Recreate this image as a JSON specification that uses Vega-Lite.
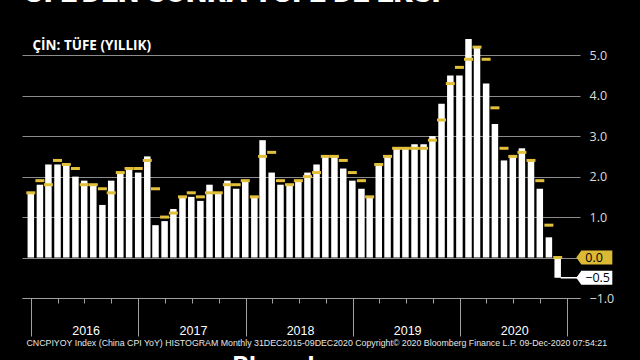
{
  "$schema": "https://vega.github.io/schema/vega-lite/v6.json",
  "width": 558,
  "height": 263,
  "autosize": {"type": "none"},
  "padding": {"left": 22, "top": 35, "right": 60, "bottom": 62},
  "background": "#000000",
  "config": {"view": {"stroke": null}, "font": "Open Sans"},
  "title": {
    "text": "ÜFE'DEN SONRA TÜFE DE EKSİ",
    "anchor": "start",
    "frame": "group",
    "orient": "top",
    "font": "Roboto",
    "fontSize": 30,
    "fontWeight": 900,
    "color": "#ffffff",
    "baseline": "alphabetic",
    "offset": 23,
    "dx": 2,
    "dy": 20
  },
  "data": {
    "values": [
      {"date": "2015-12-31", "cpi": 1.6, "survey": 1.6},
      {"date": "2016-01-31", "cpi": 1.8, "survey": 1.9},
      {"date": "2016-02-29", "cpi": 2.3, "survey": 1.8},
      {"date": "2016-03-31", "cpi": 2.3, "survey": 2.4},
      {"date": "2016-04-30", "cpi": 2.3, "survey": 2.3},
      {"date": "2016-05-31", "cpi": 2.0, "survey": 2.2},
      {"date": "2016-06-30", "cpi": 1.9, "survey": 1.8},
      {"date": "2016-07-31", "cpi": 1.8, "survey": 1.8},
      {"date": "2016-08-31", "cpi": 1.3, "survey": 1.7},
      {"date": "2016-09-30", "cpi": 1.9, "survey": 1.6},
      {"date": "2016-10-31", "cpi": 2.1, "survey": 2.1},
      {"date": "2016-11-30", "cpi": 2.2, "survey": 2.2},
      {"date": "2016-12-31", "cpi": 2.1, "survey": 2.2},
      {"date": "2017-01-31", "cpi": 2.5, "survey": 2.4},
      {"date": "2017-02-28", "cpi": 0.8, "survey": 1.7},
      {"date": "2017-03-31", "cpi": 0.9, "survey": 1.0},
      {"date": "2017-04-30", "cpi": 1.2, "survey": 1.1},
      {"date": "2017-05-31", "cpi": 1.5, "survey": 1.5},
      {"date": "2017-06-30", "cpi": 1.5, "survey": 1.6},
      {"date": "2017-07-31", "cpi": 1.4, "survey": 1.5},
      {"date": "2017-08-31", "cpi": 1.8, "survey": 1.6},
      {"date": "2017-09-30", "cpi": 1.6, "survey": 1.6},
      {"date": "2017-10-31", "cpi": 1.9, "survey": 1.8},
      {"date": "2017-11-30", "cpi": 1.7, "survey": 1.8},
      {"date": "2017-12-31", "cpi": 1.9, "survey": 1.9},
      {"date": "2018-01-31", "cpi": 1.5, "survey": 1.5},
      {"date": "2018-02-28", "cpi": 2.9, "survey": 2.5},
      {"date": "2018-03-31", "cpi": 2.1, "survey": 2.6},
      {"date": "2018-04-30", "cpi": 1.8, "survey": 1.9},
      {"date": "2018-05-31", "cpi": 1.8, "survey": 1.8},
      {"date": "2018-06-30", "cpi": 1.9, "survey": 1.9},
      {"date": "2018-07-31", "cpi": 2.1, "survey": 2.0},
      {"date": "2018-08-31", "cpi": 2.3, "survey": 2.1},
      {"date": "2018-09-30", "cpi": 2.5, "survey": 2.5},
      {"date": "2018-10-31", "cpi": 2.5, "survey": 2.5},
      {"date": "2018-11-30", "cpi": 2.2, "survey": 2.4},
      {"date": "2018-12-31", "cpi": 1.9, "survey": 2.1},
      {"date": "2019-01-31", "cpi": 1.7, "survey": 1.9},
      {"date": "2019-02-28", "cpi": 1.5, "survey": 1.5},
      {"date": "2019-03-31", "cpi": 2.3, "survey": 2.3},
      {"date": "2019-04-30", "cpi": 2.5, "survey": 2.5},
      {"date": "2019-05-31", "cpi": 2.7, "survey": 2.7},
      {"date": "2019-06-30", "cpi": 2.7, "survey": 2.7},
      {"date": "2019-07-31", "cpi": 2.8, "survey": 2.7},
      {"date": "2019-08-31", "cpi": 2.8, "survey": 2.7},
      {"date": "2019-09-30", "cpi": 3.0, "survey": 2.9},
      {"date": "2019-10-31", "cpi": 3.8, "survey": 3.4},
      {"date": "2019-11-30", "cpi": 4.5, "survey": 4.3},
      {"date": "2019-12-31", "cpi": 4.5, "survey": 4.7},
      {"date": "2020-01-31", "cpi": 5.4, "survey": 4.9},
      {"date": "2020-02-29", "cpi": 5.2, "survey": 5.2},
      {"date": "2020-03-31", "cpi": 4.3, "survey": 4.9},
      {"date": "2020-04-30", "cpi": 3.3, "survey": 3.7},
      {"date": "2020-05-31", "cpi": 2.4, "survey": 2.7},
      {"date": "2020-06-30", "cpi": 2.5, "survey": 2.5},
      {"date": "2020-07-31", "cpi": 2.7, "survey": 2.6},
      {"date": "2020-08-31", "cpi": 2.4, "survey": 2.4},
      {"date": "2020-09-30", "cpi": 1.7, "survey": 1.9},
      {"date": "2020-10-31", "cpi": 0.5, "survey": 0.8},
      {"date": "2020-11-30", "cpi": -0.5, "survey": 0.0}
    ]
  },
  "layer": [
    {
      "mark": {"type": "bar", "color": "#ffffff", "width": 6.5},
      "encoding": {
        "x": {
          "field": "date",
          "type": "temporal",
          "scale": {
            "type": "utc",
            "domain": [
              {"year": 2015, "month": 12, "date": 18, "utc": true},
              {"year": 2021, "month": 1, "date": 28, "utc": true}
            ]
          },
          "axis": {
            "orient": "bottom",
            "values": [
              {"year": 2016, "month": 1, "date": 1, "utc": true},
              {"year": 2017, "month": 1, "date": 1, "utc": true},
              {"year": 2018, "month": 1, "date": 1, "utc": true},
              {"year": 2019, "month": 1, "date": 1, "utc": true},
              {"year": 2020, "month": 1, "date": 1, "utc": true},
              {"year": 2021, "month": 1, "date": 1, "utc": true}
            ],
            "grid": false,
            "domain": true,
            "domainColor": "#a0a0a0",
            "domainWidth": 1,
            "ticks": true,
            "tickSize": 38,
            "tickColor": "#a0a0a0",
            "tickWidth": 1,
            "labelExpr": "utcyear(datum.value) < 2021 ? utcFormat(datum.value, '%Y') : ''",
            "labelOffset": 54.5,
            "labelPadding": -2,
            "labelBaseline": "alphabetic",
            "labelFont": "Liberation Sans",
            "labelFontSize": 12.5,
            "labelColor": "#ffffff",
            "labelOverlap": false,
            "labelFlush": false,
            "labelBound": false,
            "title": "Bloomberg",
            "titleFont": "Roboto",
            "titleFontSize": 26,
            "titleFontWeight": "bold",
            "titleColor": "#ffffff",
            "titleX": 210,
            "titleY": 76,
            "titleAnchor": "start",
            "titleAlign": "left",
            "titleBaseline": "alphabetic"
          }
        },
        "y": {
          "field": "cpi",
          "type": "quantitative",
          "scale": {"domain": [-1, 5.5], "nice": false, "zero": false},
          "axis": {
            "orient": "right",
            "values": [-1, 0, 1, 2, 3, 4, 5],
            "grid": true,
            "gridColor": "#8c8c8c",
            "gridWidth": 1,
            "domain": false,
            "ticks": false,
            "labelPadding": 9,
            "labelAlign": "left",
            "labelColor": "#dcdcdc",
            "labelFont": "Open Sans",
            "labelFontSize": 12.5,
            "labelExpr": "datum.value == 0 ? '' : format(datum.value, '.1f')",
            "title": "ÇİN: TÜFE (YILLIK)",
            "titleAngle": 0,
            "titleX": -548,
            "titleY": 14,
            "titleAlign": "left",
            "titleBaseline": "alphabetic",
            "titleFont": "Open Sans",
            "titleFontSize": 13.5,
            "titleFontWeight": "bold",
            "titleColor": "#ffffff"
          }
        }
      }
    },
    {
      "mark": {"type": "tick", "orient": "horizontal", "color": "#e2c03c", "size": 9, "thickness": 3, "opacity": 1},
      "encoding": {
        "x": {
          "field": "date",
          "type": "temporal",
          "axis": {
            "orient": "bottom",
            "values": [
              {"year": 2016, "month": 4, "date": 1, "utc": true},
              {"year": 2016, "month": 7, "date": 1, "utc": true},
              {"year": 2016, "month": 10, "date": 1, "utc": true},
              {"year": 2017, "month": 4, "date": 1, "utc": true},
              {"year": 2017, "month": 7, "date": 1, "utc": true},
              {"year": 2017, "month": 10, "date": 1, "utc": true},
              {"year": 2018, "month": 4, "date": 1, "utc": true},
              {"year": 2018, "month": 7, "date": 1, "utc": true},
              {"year": 2018, "month": 10, "date": 1, "utc": true},
              {"year": 2019, "month": 4, "date": 1, "utc": true},
              {"year": 2019, "month": 7, "date": 1, "utc": true},
              {"year": 2019, "month": 10, "date": 1, "utc": true},
              {"year": 2020, "month": 4, "date": 1, "utc": true},
              {"year": 2020, "month": 7, "date": 1, "utc": true},
              {"year": 2020, "month": 10, "date": 1, "utc": true}
            ],
            "grid": false,
            "domain": false,
            "ticks": true,
            "tickSize": 5,
            "tickColor": "#a0a0a0",
            "tickWidth": 1,
            "labels": false,
            "title": "CNCPIYOY Index (China CPI YoY) HISTOGRAM  Monthly 31DEC2015-09DEC2020   Copyright© 2020 Bloomberg Finance L.P.   09-Dec-2020 07:54:21",
            "titleFont": "Liberation Sans",
            "titleFontSize": 8.8,
            "titleFontWeight": "normal",
            "titleColor": "#e6e6e6",
            "titleX": 4,
            "titleY": 47,
            "titleAnchor": "start",
            "titleAlign": "left",
            "titleBaseline": "alphabetic"
          }
        },
        "y": {"field": "survey", "type": "quantitative", "axis": null}
      }
    },
    {
      "transform": [{"filter": "datum.cpi < 0"}],
      "layer": [
        {
          "mark": {"type": "rule", "color": "#ffffff", "strokeWidth": 1.5, "xOffset": 3, "x2Offset": 21},
          "encoding": {
            "x": {"field": "date", "type": "temporal", "axis": null},
            "x2": {"field": "date"},
            "y": {"field": "cpi", "type": "quantitative", "axis": null}
          }
        },
        {
          "mark": {"type": "point", "shape": "M-1,0L-0.72,-0.39L1,-0.39L1,0.39L-0.72,0.39Z", "size": 1296, "filled": true, "color": "#dbb934", "opacity": 1, "xOffset": 36.6},
          "encoding": {
            "x": {"field": "date", "type": "temporal", "axis": null},
            "y": {"field": "survey", "type": "quantitative", "axis": null}
          }
        },
        {
          "mark": {"type": "point", "shape": "M-1,0L-0.72,-0.39L1,-0.39L1,0.39L-0.72,0.39Z", "size": 1296, "filled": true, "color": "#ffffff", "opacity": 1, "xOffset": 36.6},
          "encoding": {
            "x": {"field": "date", "type": "temporal", "axis": null},
            "y": {"field": "cpi", "type": "quantitative", "axis": null}
          }
        },
        {
          "mark": {"type": "text", "align": "left", "baseline": "middle", "dx": 27.6, "color": "#000000", "font": "Open Sans", "fontSize": 12.5},
          "encoding": {
            "x": {"field": "date", "type": "temporal", "axis": null},
            "y": {"field": "survey", "type": "quantitative", "axis": null},
            "text": {"field": "survey", "type": "quantitative", "format": ".1f"}
          }
        },
        {
          "mark": {"type": "text", "align": "left", "baseline": "middle", "dx": 27.6, "color": "#000000", "font": "Open Sans", "fontSize": 12.5},
          "encoding": {
            "x": {"field": "date", "type": "temporal", "axis": null},
            "y": {"field": "cpi", "type": "quantitative", "axis": null},
            "text": {"field": "cpi", "type": "quantitative", "format": ".1f"}
          }
        }
      ]
    }
  ],
  "resolve": {"axis": {"x": "independent", "y": "independent"}}
}
